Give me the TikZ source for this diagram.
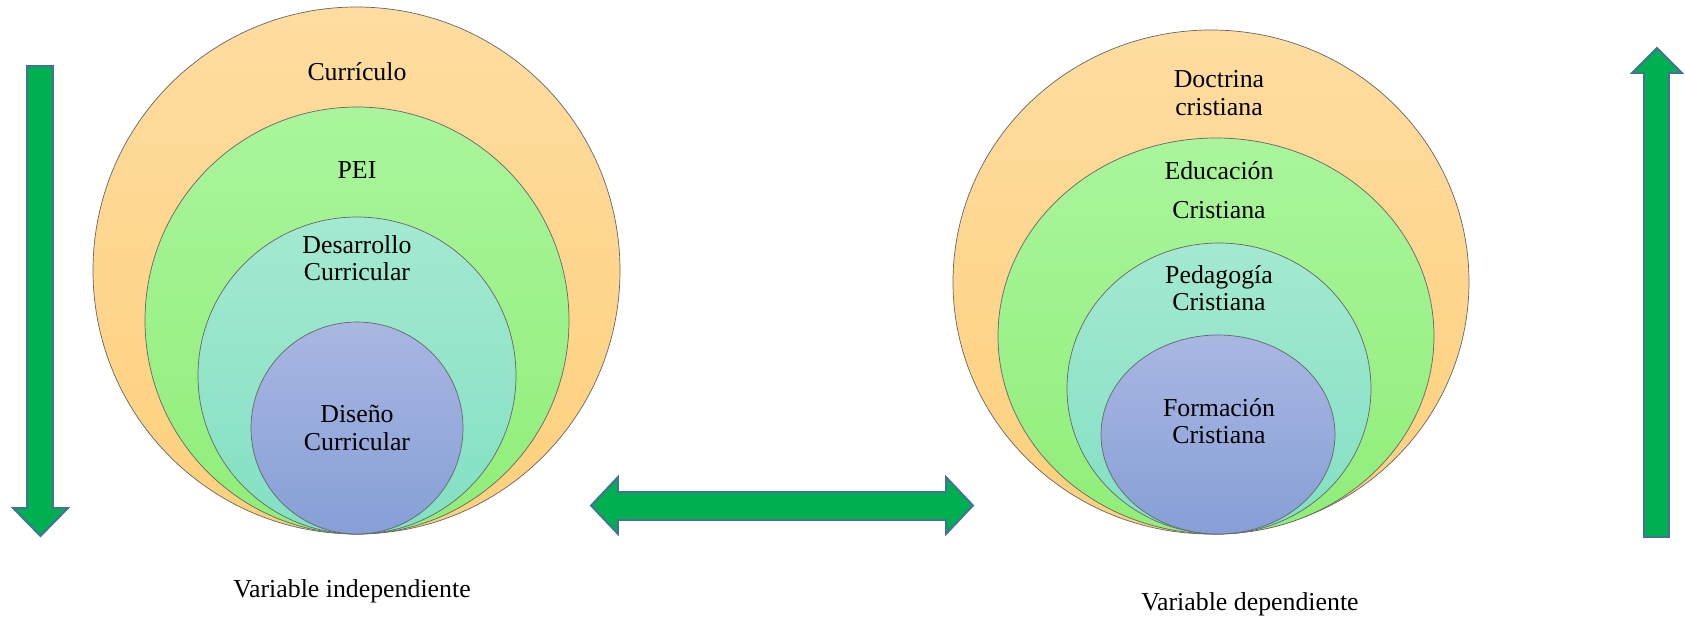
\documentclass[tikz,border=0pt]{standalone}
\usepackage{fontspec}
\setmainfont{Liberation Serif}
\usetikzlibrary{positioning,calc}
\definecolor{peachTop}{HTML}{FFDCA0}
\definecolor{peachBot}{HTML}{FDD07C}
\definecolor{greenTop}{HTML}{AAF59C}
\definecolor{greenBot}{HTML}{90EE78}
\definecolor{tealTop}{HTML}{A4E9D2}
\definecolor{tealBot}{HTML}{82E0C2}
\definecolor{blueTop}{HTML}{A9B7E2}
\definecolor{blueBot}{HTML}{869FD6}
\definecolor{arrowFill}{HTML}{00B050}
\definecolor{arrowLine}{HTML}{41719C}
\tikzset{
  ring/.style={draw=black!60, line width=0.4pt},
  lbl/.style={font=\rmfamily\fontsize{14.7}{15.6}\selectfont, align=center, inner sep=0pt},
  bigarrow/.style={fill=arrowFill, draw=arrowLine, line width=1.1pt, line join=miter},
}
\begin{document}
\begin{tikzpicture}[x=0.02cm, y=-0.02cm]
  \useasboundingbox (0,0) rectangle (1685,620);
  \def\Ybot{534}
  % left rings, all touching at the bottom
  \foreach \cx/\rx/\ry/\ctop/\cbot in {356.5/263.5/263.5/peachTop/peachBot,
      357/212/213.5/greenTop/greenBot, 357/159/158.5/tealTop/tealBot,
      357/106/106/blueTop/blueBot} {
    \shadedraw[ring, top color=\ctop, bottom color=\cbot]
      (\cx,\Ybot-\ry) ellipse ({\rx} and {\ry});
  }
  % right rings
  \foreach \cx/\rx/\ry/\ctop/\cbot in {1211/258/252/peachTop/peachBot,
      1216/218/198/greenTop/greenBot, 1219/152/145.5/tealTop/tealBot,
      1218/117/99.5/blueTop/blueBot} {
    \shadedraw[ring, top color=\ctop, bottom color=\cbot]
      (\cx,\Ybot-\ry) ellipse ({\rx} and {\ry});
  }

  \node[lbl] (curriculo) at (357,72) {Currículo};
  \node[lbl] (pei) at (357,170) {PEI};
  \node[lbl] (desarrollo) at (357,258) {Desarrollo\\Curricular};
  \node[lbl] (diseno) at (357,428) {Diseño\\Curricular};

  \node[lbl] (doctrina) at (1219,93) {Doctrina\\cristiana};
  \node[lbl] (educacion) at (1219,171) {Educación};
  \node[lbl] (educacion2) at (1219,210) {Cristiana};
  \node[lbl] (pedagogia) at (1219,288) {Pedagogía\\Cristiana};
  \node[lbl] (formacion) at (1219,421) {Formación\\Cristiana};

  \node[lbl] (varind) at (352,591) {Variable independiente};
  \node[lbl] (vardep) at (1250,604) {Variable dependiente};

  % block arrows
  \draw[bigarrow] (27,66) -- (53,66) -- (53,508) -- (68,508) -- (40.5,536)
    -- (13,508) -- (27,508) -- cycle;
  \draw[bigarrow] (591,505.5) -- (618,477) -- (618,492) -- (946,492)
    -- (946,477) -- (973,505.5) -- (946,534) -- (946,520) -- (618,520)
    -- (618,534) -- cycle;
  \draw[bigarrow] (1657,48) -- (1682,73) -- (1669,73) -- (1669,537)
    -- (1644,537) -- (1644,73) -- (1632,73) -- cycle;
\end{tikzpicture}
\end{document}
